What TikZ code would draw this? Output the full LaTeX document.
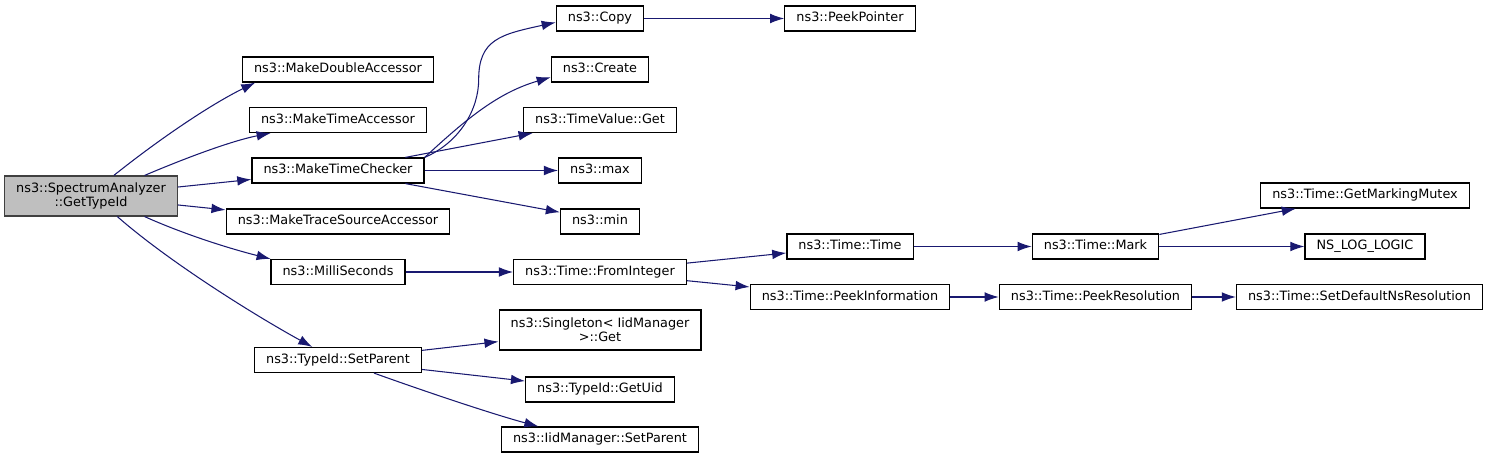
\documentclass[tikz,border=0pt]{standalone}
\usepackage{fontspec}
\setmainfont{DejaVu Sans}
\usetikzlibrary{arrows.meta}
\definecolor{callblue}{HTML}{191970}
\definecolor{rootfill}{HTML}{BFBFBF}
\definecolor{rootdraw}{HTML}{404040}

\begin{document}
\begin{tikzpicture}[x=0.02cm, y=-0.02cm, >={Latex[length=8pt,width=5.5pt]}]
  \tikzstyle{block} = [draw, rectangle, line width=0.7pt, font=\fontsize{7.3}{8}\selectfont, inner xsep=6.6pt, inner ysep=3.4pt, text height=5.6pt, text depth=1.8pt, minimum height=14.2pt]
  \tikzstyle{twoline} = [align=center, text height={}, text depth={}, minimum height=22.7pt]
  \tikzstyle{root} = [fill=rootfill, draw=rootdraw]
  \tikzstyle{call} = [->, color=callblue, line width=0.6pt]
  \useasboundingbox (0,0) rectangle (1495,459);

  % caller
  \node [block, twoline, root] (root) at (91,196) {ns3::SpectrumAnalyzer\\::GetTypeId};
  % first level
  \node [block] (dblacc) at (338,69.5) {ns3::MakeDoubleAccessor};
  \node [block] (timeacc) at (338,120) {ns3::MakeTimeAccessor};
  \node [block] (checker) at (338,170.5) {ns3::MakeTimeChecker};
  \node [block] (traceacc) at (338,221.5) {ns3::MakeTraceSourceAccessor};
  \node [block] (milli) at (338,272) {ns3::MilliSeconds};
  \node [block] (setparent) at (338,360) {ns3::TypeId::SetParent};
  % second level
  \node [block] (copy) at (600,18.5) {ns3::Copy};
  \node [block] (create) at (600,69.5) {ns3::Create};
  \node [block] (tvget) at (600,120) {ns3::TimeValue::Get};
  \node [block] (max) at (600,170.5) {ns3::max};
  \node [block] (min) at (600,221.5) {ns3::min};
  \node [block] (fromint) at (600,272) {ns3::Time::FromInteger};
  \node [block, twoline] (single) at (600,330) {ns3::Singleton< IidManager\\ >::Get};
  \node [block] (getuid) at (600,389.5) {ns3::TypeId::GetUid};
  \node [block] (iidparent) at (600,439.5) {ns3::IidManager::SetParent};
  % third level
  \node [block] (peekptr) at (850,18.5) {ns3::PeekPointer};
  \node [block] (ttime) at (850,246.5) {ns3::Time::Time};
  \node [block] (peekinfo) at (850,297) {ns3::Time::PeekInformation};
  % fourth and fifth level
  \node [block] (mark) at (1095.5,246.5) {ns3::Time::Mark};
  \node [block] (peekres) at (1095.5,297) {ns3::Time::PeekResolution};
  \node [block] (mutex) at (1365,195.5) {ns3::Time::GetMarkingMutex};
  \node [block] (loglogic) at (1365,246.5) {NS\_LOG\_LOGIC};
  \node [block] (setres) at (1359.5,297) {ns3::Time::SetDefaultNsResolution};

  \draw [call] (root.42) .. controls +(45,-36) and +(-45,22) .. (dblacc.189);
  \draw [call] (root.21) .. controls +(40,-17) and +(-40,8) .. (timeacc.191);
  \draw [call] (root) -- (checker);
  \draw [call] (root) -- (traceacc);
  \draw [call] (root.339) .. controls +(40,18) and +(-40,-10) .. (milli.169);
  \draw [call] (root.322) .. controls +(50,44) and +(-60,-33) .. (setparent.153);

  \draw [call] (checker.north east) .. controls +(35,-15) and +(0,30) .. ++(54,-78)
    .. controls +(0,-40) and +(-55,12) .. (copy.185);
  \draw [call] (checker.north east) .. controls +(42,-39) and +(-52,15) .. (create.189);
  \draw [call] (checker.11) -- (tvget.191);
  \draw [call] (checker) -- (max);
  \draw [call] (checker.349) -- (min.167);
  \draw [call] (copy) -- (peekptr);

  \draw [call] (milli) -- (fromint);
  \draw [call] (fromint) -- (ttime);
  \draw [call] (fromint) -- (peekinfo);
  \draw [call] (ttime) -- (mark);
  \draw [call] (mark) -- (mutex);
  \draw [call] (mark) -- (loglogic);
  \draw [call] (peekinfo) -- (peekres);
  \draw [call] (peekres) -- (setres);

  \draw [call] (setparent) -- (single);
  \draw [call] (setparent) -- (getuid);
  \draw [call] (setparent.340) .. controls +(50,18) and +(-45,-12) .. (iidparent.168);
\end{tikzpicture}
\end{document}
